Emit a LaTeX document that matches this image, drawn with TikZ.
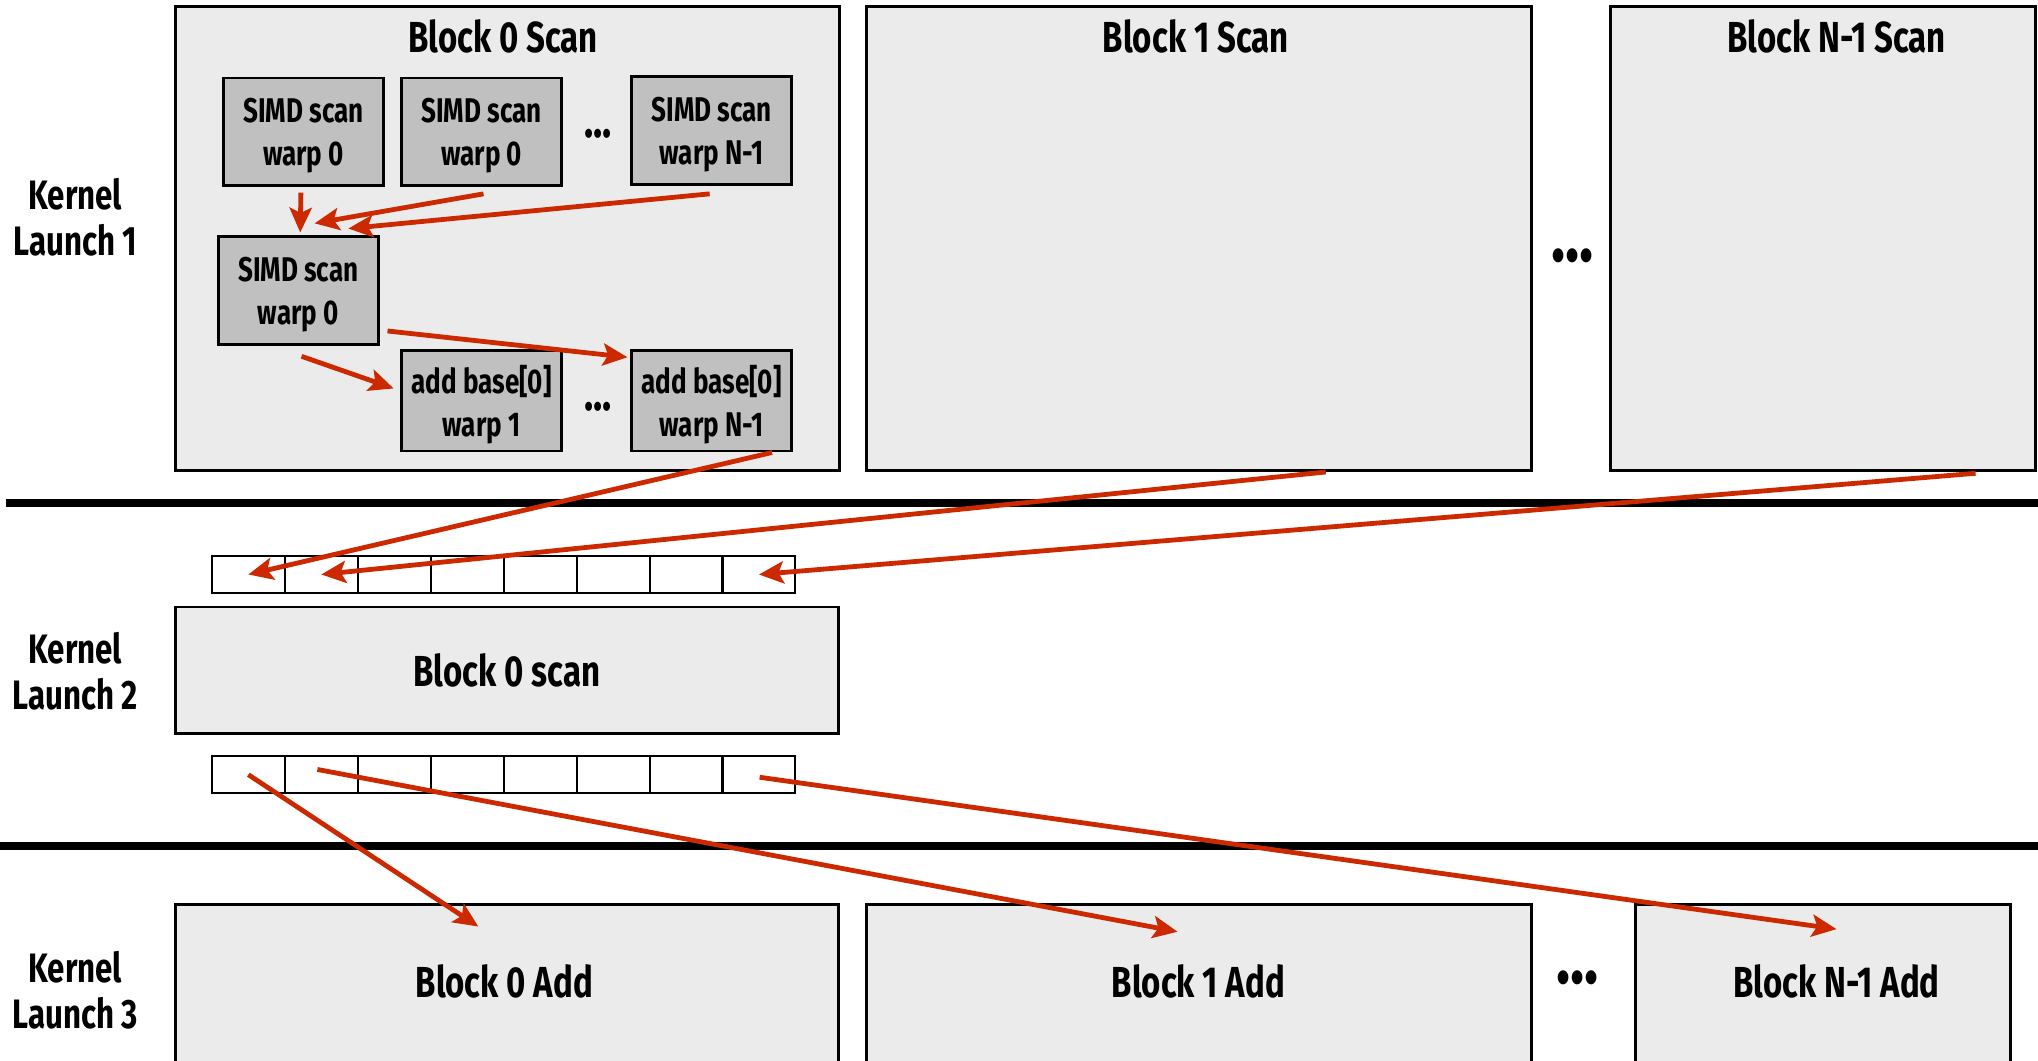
\documentclass[tikz,border=0pt]{standalone}
\usepackage{fontspec}
\setmainfont{Fira Sans}[FakeStretch=0.76]
\usetikzlibrary{arrows.meta,positioning}
\definecolor{ArrowRed}{RGB}{204, 41, 0}
\definecolor{LaneGray}{RGB}{235, 235, 235}
\definecolor{WarpGray}{RGB}{192, 192, 192}

\begin{document}
\begin{tikzpicture}[x=0.1mm, y=-0.1mm,
        lane/.style={draw=black, fill=LaneGray, line width=0.65pt, inner sep=0pt, font=\fontsize{9.5}{11}\selectfont\bfseries},
        warp/.style={draw=black, fill=WarpGray, line width=0.65pt, minimum width=12.3mm, minimum height=8.3mm, inner sep=0pt, text depth=0pt, align=center, font=\fontsize{7.5}{9.4}\selectfont\bfseries},
        title/.style={inner sep=0pt, font=\fontsize{9.5}{11}\selectfont\bfseries},
        kernel/.style={inner sep=0pt, align=center, font=\fontsize{9}{10.2}\selectfont\bfseries},
        cell/.style={draw=black, fill=white, line width=0.45pt, minimum width=5.61mm, minimum height=2.8mm, inner sep=0pt},
        dots/.style={inner sep=0pt, font=\fontsize{17}{17}\selectfont\bfseries},
        sep/.style={line width=1.7pt},
        arr/.style={-{Stealth[length=1.9mm, width=1.7mm, inset=0.4mm]}, line width=1.05pt, color=ArrowRed}]

        \useasboundingbox (0,0) rectangle (1568,816);
        \clip (0,0) rectangle (1568,816);

        % launch 1
        \node[kernel] (k1) at (58,167) {Kernel\\Launch 1};
        \node[lane, minimum width=51.1mm, minimum height=35.7mm] (b0) at (390.5,183.5) {};
        \node[lane, minimum width=51.1mm, minimum height=35.7mm] (b1) at (922.5,183.5) {};
        \node[lane, minimum width=32.7mm, minimum height=35.7mm] (bn) at (1402.5,183.5) {};
        \node[title] (t0) at (387,28) {Block 0 Scan};
        \node[title] (t1) at (920,28) {Block 1 Scan};
        \node[title] (tn) at (1413,28) {Block N-1 Scan};
        \node[dots] (d2) at (1210,197) {...};

        \node[warp] (s0) at (233.5,101.5) {SIMD scan\\warp 0};
        \node[warp] (s1) at (370.5,101.5) {SIMD scan\\warp 0};
        \node[warp] (sn) at (547.5,100.5) {SIMD scan\\warp N-1};
        \node[dots, font=\fontsize{11}{11}\selectfont\bfseries] (d0) at (460,103) {...};
        \node[warp] (r0) at (229.5,223.5) {SIMD scan\\warp 0};
        \node[warp, minimum height=7.7mm] (a1) at (370.5,308.5) {add base[0]\\warp 1};
        \node[warp, minimum height=7.7mm] (an) at (547.5,308.5) {add base[0]\\warp N-1};
        \node[dots, font=\fontsize{11}{11}\selectfont\bfseries] (d1) at (460,313) {...};

        \draw[sep] (5,387) -- (1568,387);

        % launch 2
        \node[kernel] (k2) at (58,516.5) {Kernel\\Launch 2};
        \foreach \i in {0,...,7}
          \node[cell] (u\i) at (191.06+56.125*\i,442) {};
        \node[lane, minimum width=51mm, minimum height=9.7mm] (m0) at (390,515.5) {Block 0 scan};
        \foreach \i in {0,...,7}
          \node[cell] (l\i) at (191.06+56.125*\i,596) {};

        \draw[sep] (0,651) -- (1568,651);

        % launch 3
        \node[kernel] (k3) at (58,762) {Kernel\\Launch 3};
        \node[lane, minimum width=51mm, minimum height=20.4mm] (c0) at (390,798) {};
        \node[lane, minimum width=51.1mm, minimum height=20.4mm] (c1) at (922.5,798) {};
        \node[lane, minimum width=28.9mm, minimum height=20.4mm] (cn) at (1402.5,798) {};
        \node[title] (e0) at (388,755) {Block 0 Add};
        \node[title] (e1) at (922,755) {Block 1 Add};
        \node[title] (en) at (1413,755) {Block N-1 Add};
        \node[dots] (d3) at (1214,752) {...};

        % arrows
        \draw[arr] ([shift={(-2,4)}]s0.south) -- ([shift={(1.5,-2)}]r0.north);
        \draw[arr] ([shift={(1.5,5)}]s1.south) -- ([shift={(12.5,-9)}]r0.north);
        \draw[arr] ([shift={(-1.5,6)}]sn.south) -- ([shift={(38.5,-5)}]r0.north);
        \draw[arr] ([shift={(6,-11.5)}]r0.south east) -- ([shift={(-2,6)}]an.north west);
        \draw[arr] ([shift={(2.5,8)}]r0.south) -- ([shift={(-5,30)}]a1.north west);
        \draw[arr] ([shift={(46.5,0)}]an.south) -- (u0.center);
        \draw[arr] ([shift={(97.5,0)}]b1.south) -- (u1.center);
        \draw[arr] ([shift={(117.5,1)}]bn.south) -- (u7.center);
        \draw[arr] (l0.center) -- ([shift={(-22,18)}]c0.north);
        \draw[arr] ([shift={(-3,-4)}]l1.center) -- ([shift={(-16.5,22)}]c1.north);
        \draw[arr] ([shift={(0.5,2)}]l7.center) -- ([shift={(10.5,20)}]cn.north);
\end{tikzpicture}
\end{document}
